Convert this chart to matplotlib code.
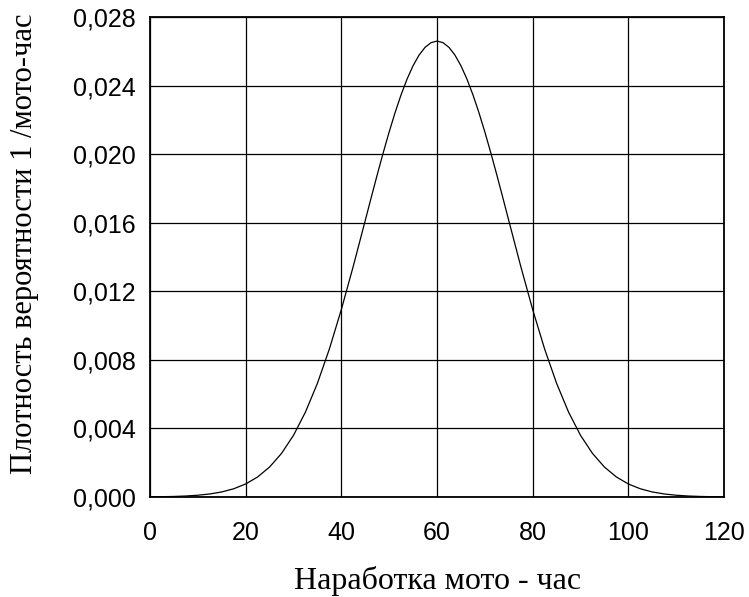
import matplotlib
matplotlib.use('Agg')
import matplotlib.pyplot as plt
from matplotlib.ticker import FuncFormatter

# operating time, moto-hours (denser near the peak)
hours = [0, 2.5, 5, 7.5, 10, 12.5, 15, 17.5, 20, 22.5, 25, 27.5, 30, 32.5, 35,
         37.5, 40, 42.5, 45, 46.25, 47.5, 48.75, 50, 51.25, 52.5, 53.75, 55,
         56.25, 57.5, 58.75, 60, 61.25, 62.5, 63.75, 65, 66.25, 67.5, 68.75, 70,
         71.25, 72.5, 73.75, 75, 77.5, 80, 82.5, 85, 87.5, 90, 92.5, 95, 97.5,
         100, 102.5, 105, 107.5, 110, 112.5, 115, 117.5, 120]
# probability density
density = [0.000009, 0.000017, 0.000032, 0.000058, 0.000103, 0.000177, 0.000295,
           0.000480, 0.000760, 0.001169, 0.001748, 0.002544, 0.003599, 0.004954,
           0.006632, 0.008634, 0.010934, 0.013466, 0.016131, 0.017473, 0.018794,
           0.020076, 0.021297, 0.022435, 0.023471, 0.024385, 0.025159, 0.025778,
           0.026229, 0.026504, 0.026596, 0.026504, 0.026229, 0.025778, 0.025159,
           0.024385, 0.023471, 0.022435, 0.021297, 0.020076, 0.018794, 0.017473,
           0.016131, 0.013466, 0.010934, 0.008634, 0.006632, 0.004954, 0.003599,
           0.002544, 0.001748, 0.001169, 0.000760, 0.000480, 0.000295, 0.000177,
           0.000103, 0.000058, 0.000032, 0.000017, 0.000009]

x_ticks = [0, 20, 40, 60, 80, 100, 120]
y_ticks = [0.000, 0.004, 0.008, 0.012, 0.016, 0.020, 0.024, 0.028]

fig = plt.figure(figsize=(7.49, 5.97), dpi=100)
ax = fig.add_axes([150/749, 1 - 497/597, (724-150)/749, (497-17)/597])
ax.plot(hours, density, color='black', linewidth=0.9)

ax.set_xlim(0, 120)
ax.set_ylim(0, 0.028)
ax.set_xticks(x_ticks)
ax.set_yticks(y_ticks)
ax.yaxis.set_major_formatter(FuncFormatter(lambda v, p: f'{v:.3f}'.replace('.', ',')))
ax.tick_params(length=0, labelsize=18)
ax.tick_params(axis='x', pad=17)
ax.tick_params(axis='y', pad=10)
for lbl in ax.get_xticklabels() + ax.get_yticklabels():
    lbl.set_family('Liberation Sans')
ax.grid(True, color='black', linewidth=0.9)
for s in ax.spines.values():
    s.set_linewidth(1.3)

# axis titles
fig.text(438/749, 1 - 589/597, 'Наработка мото - час', family='Liberation Serif',
         fontsize=23, ha='center', va='baseline')
fig.text(25/749, 1 - 244/597, 'Плотность вероятности 1 /мото-час', family='Liberation Serif',
         fontsize=22, ha='center', va='center', rotation=90)

plt.savefig('out.png', dpi=100)
